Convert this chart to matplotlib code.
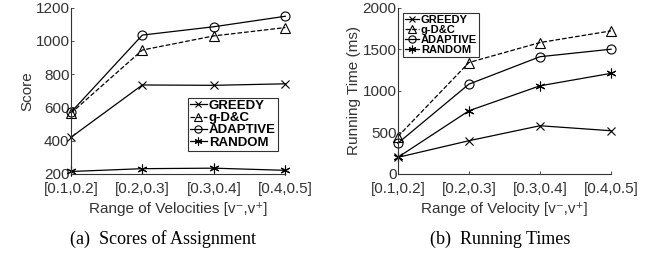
import matplotlib
matplotlib.use("Agg")
import matplotlib.pyplot as plt

ranges = ["[0.1,0.2]", "[0.2,0.3]", "[0.3,0.4]", "[0.4,0.5]"]
series = ["GREEDY", "g-D&C", "ADAPTIVE", "RANDOM"]

score_greedy = [420, 735, 733, 742]
score_gdc = [565, 945, 1030, 1080]
score_adaptive = [570, 1035, 1085, 1148]
score_random = [215, 232, 235, 222]

time_greedy = [200, 400, 580, 520]
time_gdc = [450, 1340, 1580, 1720]
time_adaptive = [370, 1080, 1410, 1500]
time_random = [200, 760, 1060, 1210]

styles = [
    dict(marker="x", linestyle="-", markerfacecolor="none", markersize=5.5),
    dict(marker="^", linestyle="--", markerfacecolor="none", markersize=6.5),
    dict(marker="o", linestyle="-", markerfacecolor="none", markersize=6.5),
    dict(marker=(6, 2, 0), linestyle="-", markerfacecolor="none", markersize=7),
]

plt.rcParams["font.family"] = ["Liberation Sans", "DejaVu Sans"]
fig = plt.figure(figsize=(6.62, 2.54), dpi=100)

ax1 = fig.add_axes([0.107, 0.315, 0.324, 0.655])
ax2 = fig.add_axes([0.601, 0.315, 0.322, 0.655])

x = list(range(1, len(ranges) + 1))
grey = "#333333"

def draw(ax, data, ylim, yticks, ylabel, xlabel, legsize):
    for name, vals, st in zip(series, data, styles):
        ax.plot(x, vals, color="black", linewidth=0.9,
                markeredgewidth=0.8, label=name, clip_on=False, **st)
    ax.set_xlim(1, 4)
    ax.set_ylim(*ylim)
    ax.set_yticks(yticks)
    ax.set_xticks(x)
    ax.set_xticklabels(ranges)
    for s in ["top", "right"]:
        ax.spines[s].set_visible(False)
    for s in ["left", "bottom"]:
        ax.spines[s].set_linewidth(0.8)
        ax.spines[s].set_color(grey)
    ax.tick_params(labelsize=11, colors=grey, direction="in", length=2.5, width=0.6)
    ax.tick_params(axis="x", pad=6)
    ax.tick_params(axis="y", pad=1)
    ax.set_ylabel(ylabel, fontsize=11, color=grey, labelpad=1)
    ax.set_xlabel(xlabel, fontsize=11, color=grey, labelpad=4)
    leg = ax.legend(loc="upper left", prop=dict(weight="bold", size=legsize),
                    frameon=True, fancybox=False, edgecolor="black",
                    handlelength=1.3, handletextpad=0.15, borderpad=0.15,
                    labelspacing=0.0, borderaxespad=0.0, markerscale=0.8)
    leg.get_frame().set_linewidth(0.8)
    return leg

leg1 = draw(ax1, [score_greedy, score_gdc, score_adaptive, score_random],
            (200, 1200), [200, 400, 600, 800, 1000, 1200], "Score",
            "Range of Velocities [v\u207b,v\u207a]", 9.5)
leg1.set_bbox_to_anchor((0.545, 0.458), transform=ax1.transAxes)

leg2 = draw(ax2, [time_greedy, time_gdc, time_adaptive, time_random],
            (0, 2000), [0, 500, 1000, 1500, 2000], "Running Time (ms)",
            "Range of Velocity [v\u207b,v\u207a]", 8.0)
leg2.set_bbox_to_anchor((0.025, 0.965), transform=ax2.transAxes)

fig.text(0.246, 0.058, "(a)  Scores of Assignment", ha="center", va="center",
         fontsize=13, family="Liberation Serif")
fig.text(0.755, 0.058, "(b)  Running Times", ha="center", va="center",
         fontsize=13, family="Liberation Serif")

fig.savefig("out.png", dpi=100)
